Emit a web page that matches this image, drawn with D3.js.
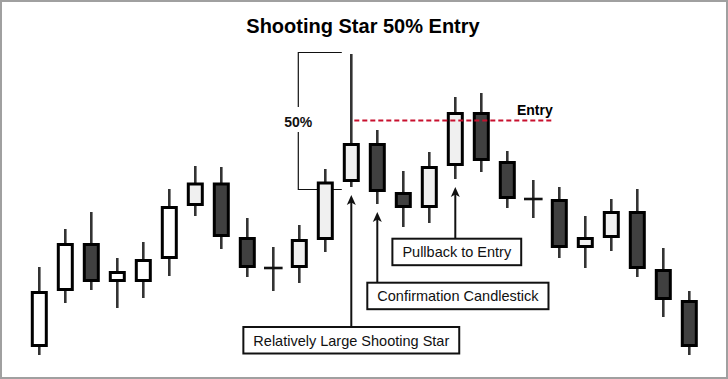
<!DOCTYPE html>
<html>
<head>
<meta charset="utf-8">
<script src="https://cdn.jsdelivr.net/npm/d3@7"></script>
<style>
  html, body { margin: 0; padding: 0; background: #fff; }
  svg { display: block; }
</style>
</head>
<body>
<svg id="chart" width="728" height="379"></svg>
<script>
// ---- data ----
const candleIds = d3.range(1, 27);
const opens  = [33, 89, 137, 98, 98, 121, 174, 197.5, 143, 112, 112, 140, 198, 237, 188, 172, 214, 268, 219, 181, 181, 132, 142, 169, 111, 80];
const highs  = [113, 151, 168, 122, 138, 191, 214, 213, 162, 133, 155, 211, 326, 250, 209, 228, 283, 287, 229, 200, 193, 164, 181, 191, 132, 89];
const lows   = [25, 77, 90, 72, 82, 104, 164, 131, 103, 89, 97, 128, 193, 176, 153, 157, 201, 208, 172, 162, 122, 112, 129, 103, 63, 25];
const closes = [89, 137, 98, 109, 121, 174, 197.5, 143, 112, 112, 141, 198.5, 237, 188, 172, 214, 268, 219, 181, 181, 132, 143, 169, 111, 80, 33];
const tones  = ["plain","plain","plain","plain","plain","plain","soft","soft","soft","soft","soft","soft","soft","soft","soft","soft","soft","soft","soft","soft","soft","soft","soft","soft","soft","soft"];
const starIndex = 13;           // shooting star candle
const entryLevel = 259.5;       // 50% of the shooting star's range
const titleText = "Shooting Star 50% Entry";
const annotations = [
  { text: "Relatively Large Shooting Star", candle: 13 },
  { text: "Confirmation Candlestick",       candle: 14 },
  { text: "Pullback to Entry",              candle: 17 }
];

const candles = candleIds.map((id, i) => ({
  id, open: opens[i], high: highs[i], low: lows[i], close: closes[i], tone: tones[i]
}));

// ---- layout ----
const W = 728, H = 379;
const svg = d3.select("#chart");
const x = d3.scaleLinear().domain([1, 26]).range([39.3, 689.3]);
const y = d3.scaleLinear().domain([0, 380]).range([380, 0]);
const bodyW = 17, bodyStroke = 3;
const FONT = "'Liberation Sans', Arial, sans-serif";

// frame
svg.append("rect").attr("x", 1).attr("y", 1).attr("width", W - 2).attr("height", H - 2)
  .attr("fill", "#fff").attr("stroke", "#a0a0a0").attr("stroke-width", 2);

// title
svg.append("text").attr("x", 363).attr("y", 33).attr("text-anchor", "middle")
  .attr("font-family", FONT).attr("font-weight", "bold").attr("font-size", 20)
  .attr("fill", "#000").text(titleText);

// 50% bracket
const star = candles[starIndex - 1];
const bx = x(starIndex);
const bTop = y(star.high) - 1.5, bBot = y(star.low) + 2.5, bLeft = bx - 53, bRight = bx - 9.5;
const bracket = svg.append("g").attr("stroke", "#111").attr("stroke-width", 1.2).attr("fill", "none");
bracket.append("path").attr("d", `M${bRight},${bTop}H${bLeft}V107`);
bracket.append("path").attr("d", `M${bLeft},132V${bBot}H${bRight}`);
svg.append("text").attr("x", bLeft).attr("y", 126.5).attr("text-anchor", "middle")
  .attr("font-family", FONT).attr("font-weight", "bold").attr("font-size", 14)
  .attr("fill", "#111").text("50%");

// candles
const fill = d3.scaleOrdinal().domain(["plain-up", "soft-up", "down"]).range(["#ffffff", "#f0f0f0", "#404040"]);
const g = svg.append("g");
// wicks
g.selectAll("line.wick").data(candles).join("line").attr("class", "wick")
  .attr("x1", d => x(d.id)).attr("x2", d => x(d.id))
  .attr("y1", d => y(d.high)).attr("y2", d => y(d.low))
  .attr("stroke", "#333").attr("stroke-width", 2.6);
// bodies
const bodies = candles.filter(d => d.open !== d.close);
g.selectAll("rect.body").data(bodies).join("rect").attr("class", "body")
  .attr("x", d => x(d.id) - bodyW / 2 + bodyStroke / 2)
  .attr("width", bodyW - bodyStroke)
  .attr("y", d => y(Math.max(d.open, d.close)) + bodyStroke / 2)
  .attr("height", d => Math.abs(y(d.open) - y(d.close)) - bodyStroke)
  .attr("fill", d => d.close > d.open ? fill(d.tone + "-up") : fill("down"))
  .attr("stroke", "#000").attr("stroke-width", bodyStroke);
// doji
g.selectAll("line.doji").data(candles.filter(d => d.open === d.close)).join("line").attr("class", "doji")
  .attr("x1", d => x(d.id) - 9.3).attr("x2", d => x(d.id) + 9.3)
  .attr("y1", d => y(d.open)).attr("y2", d => y(d.open))
  .attr("stroke", "#111").attr("stroke-width", 2.6);

// entry line
svg.append("line").attr("x1", x(starIndex) + 3).attr("x2", x(20) + 19.4)
  .attr("y1", y(entryLevel)).attr("y2", y(entryLevel))
  .attr("stroke", "#c8102e").attr("stroke-width", 2).attr("stroke-dasharray", "5,3");
svg.append("text").attr("x", x(20) + 19.4).attr("y", 115).attr("text-anchor", "end")
  .attr("font-family", FONT).attr("font-weight", "bold").attr("font-size", 14)
  .attr("fill", "#000").text("Entry");

// annotations
const boxLayout = {
  13: { top: 327, anchor: "center", dx: 0 },
  14: { top: 282.7, anchor: "left", dx: -10 },
  17: { top: 238.7, anchor: "center", dx: 1.5 }
};
const boxH = 26.5, pad = 10;
annotations.forEach(a => {
  const c = candles[a.candle - 1];
  const cx = x(a.candle);
  const L = boxLayout[a.candle];
  const tip = y(c.low) + 8;
  const ag = svg.append("g");
  ag.append("line").attr("x1", cx).attr("x2", cx).attr("y1", tip + 4).attr("y2", L.top)
    .attr("stroke", "#111").attr("stroke-width", 2);
  ag.append("path").attr("d", `M${cx},${tip}L${cx - 4.5},${tip + 10}L${cx},${tip + 7.5}L${cx + 4.5},${tip + 10}Z`)
    .attr("fill", "#111");
  const box = ag.append("rect").attr("y", L.top).attr("height", boxH)
    .attr("fill", "#fff").attr("stroke", "#111").attr("stroke-width", 2);
  const t = ag.append("text").attr("font-family", FONT).attr("font-size", 14.5)
    .attr("fill", "#111").attr("y", L.top + 18.5).text(a.text);
  const tw = t.node().getComputedTextLength();
  const bw = tw + pad * 2;
  const left = L.anchor === "center" ? cx + L.dx - bw / 2 : cx + L.dx;
  box.attr("x", left).attr("width", bw);
  t.attr("x", left + bw / 2).attr("text-anchor", "middle");
});
</script>
</body>
</html>
